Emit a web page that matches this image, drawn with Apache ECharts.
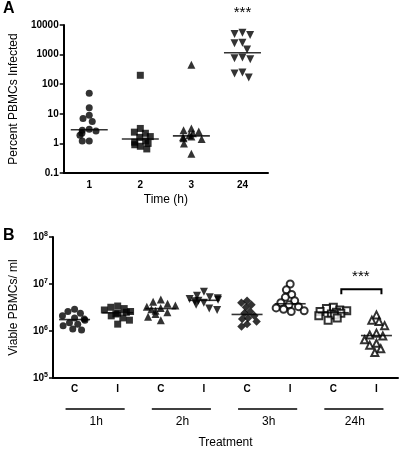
<!DOCTYPE html>
<html><head><meta charset="utf-8">
<script src="https://cdn.jsdelivr.net/npm/echarts@6/dist/echarts.min.js"></script>
<style>html,body{margin:0;padding:0;background:#fff}#c{width:400px;height:450px}</style>
</head><body><div id="c"></div>
<script>
// ---- Panel A data ----
const timeLabels = ['1', '2', '3', '24'];
const infected1h = [49, 16, 9, 7, 5.5, 3, 2.8, 2.6, 2.2, 1.9, 1.2, 1.2];
const infected2h = [200, 3.2, 2.4, 2.2, 1.7, 1.6, 1.2, 1.1, 1.0, 0.9, 0.8, 0.65];
const infected3h = [450, 3.2, 2.8, 2.5, 2.2, 1.9, 1.7, 1.6, 1.5, 1.4, 1.0, 0.45];
const infected24h = [5500, 5000, 4600, 2500, 2400, 1500, 800, 750, 700, 250, 230, 170];

// ---- Panel B data ----
const treatLabels = ['C', 'I', 'C', 'I', 'C', 'I', 'C', 'I'];
const timeGroups = ['1h', '2h', '3h', '24h'];
const viable1hC = [2.9e6, 2.6e6, 2.4e6, 2.1e6, 1.9e6, 1.8e6, 1.7e6, 1.5e6, 1.4e6, 1.3e6, 1.1e6, 1.05e6];
const viable1hI = [3.4e6, 3.2e6, 3.0e6, 2.8e6, 2.6e6, 2.5e6, 2.4e6, 2.3e6, 2.1e6, 1.9e6, 1.7e6, 1.4e6];
const viable2hC = [4.7e6, 4.2e6, 3.8e6, 3.5e6, 3.3e6, 3.1e6, 2.9e6, 2.7e6, 2.5e6, 2.3e6, 2.0e6, 1.7e6];
const viable2hI = [6.8e6, 5.6e6, 5.2e6, 5.0e6, 4.8e6, 4.6e6, 4.4e6, 4.3e6, 4.0e6, 3.6e6, 3.0e6, 2.8e6];
const viable3hC = [4.4e6, 4.0e6, 3.6e6, 3.2e6, 2.6e6, 2.4e6, 2.1e6, 1.9e6, 1.8e6, 1.6e6, 1.4e6, 1.25e6];
const viable3hI = [10.0e6, 7.5e6, 6.0e6, 5.2e6, 4.4e6, 4.0e6, 3.6e6, 3.3e6, 3.1e6, 2.9e6, 2.7e6, 2.6e6];
const viable24hC = [3.2e6, 3.0e6, 2.8e6, 2.7e6, 2.6e6, 2.5e6, 2.4e6, 2.3e6, 2.2e6, 2.1e6, 1.9e6, 1.7e6];
const viable24hI = [2.2e6, 1.7e6, 1.6e6, 1.3e6, 0.9e6, 0.82e6, 0.78e6, 0.65e6, 0.55e6, 0.5e6, 0.42e6, 0.35e6];
const bracketLevel = 7.7e6;

const FONT = 'Liberation Sans';
function median(a) {
  const s = a.slice().sort((x, y) => x - y);
  const n = s.length;
  return n % 2 ? s[(n - 1) / 2] : (s[n / 2 - 1] + s[n / 2]) / 2;
}

const groupsA = [
  { data: infected1h, symbol: 'circle', size: 7 },
  { data: infected2h, symbol: 'rect', size: 7 },
  { data: infected3h, symbol: 'triangle', size: 8 },
  { data: infected24h, symbol: 'triangle', size: 8, rotate: 180 }
];
const groupsB = [
  { data: viable1hC, symbol: 'circle', size: 7 },
  { data: viable1hI, symbol: 'rect', size: 7 },
  { data: viable2hC, symbol: 'triangle', size: 8 },
  { data: viable2hI, symbol: 'triangle', size: 8, rotate: 180 },
  { data: viable3hC, symbol: 'rect', size: 6, rotate: 45 },
  { data: viable3hI, symbol: 'emptyCircle', size: 7 },
  { data: viable24hC, symbol: 'emptyRect', size: 7 },
  { data: viable24hI, symbol: 'emptyTriangle', size: 7 }
];

function mkSeries(groups, xi, yi) {
  return groups.map((g, i) => ({
    type: 'scatter', xAxisIndex: xi, yAxisIndex: yi,
    symbol: g.symbol, symbolSize: g.size, symbolRotate: g.rotate || 0,
    itemStyle: { color: '#000', borderColor: '#000', borderWidth: g.symbol.startsWith('empty') ? 1.5 : 0 },
    data: g.data.map(v => [i, v]), z: 2, silent: true
  }));
}
function mkMedian(groups, xi, yi, w) {
  return {
    type: 'scatter', xAxisIndex: xi, yAxisIndex: yi, symbol: 'rect', symbolSize: [w, 1.6],
    itemStyle: { color: '#000' }, z: 3, silent: true,
    data: groups.map((g, i) => [i, median(g.data)])
  };
}

const axisLineStyle = { show: true, lineStyle: { color: '#000', width: 2 } };
const tickLbl = { color: '#000', fontFamily: FONT, fontWeight: 'bold', fontSize: 10 };
const nameStyle = { color: '#000', fontFamily: FONT, fontSize: 12 };

const option = {
  animation: false,
  backgroundColor: '#fff',
  grid: [
    { left: 48, right: 132, top: 25, height: 148 },
    { left: 48, right: 2, top: 237, height: 145 }
  ],
  xAxis: [
    { gridIndex: 0, type: 'category', data: timeLabels, jitter: 22, jitterOverlap: false, jitterMargin: 0,
      axisLine: axisLineStyle, axisTick: { show: false },
      axisLabel: Object.assign({ margin: 7 }, tickLbl),
      name: 'Time (h)', nameLocation: 'middle', nameGap: 21, nameTextStyle: nameStyle },
    { gridIndex: 0, type: 'category', data: timeLabels, show: false },
    { gridIndex: 1, type: 'category', data: treatLabels, jitter: 30, jitterOverlap: false, jitterMargin: 0,
      axisLine: axisLineStyle, axisTick: { show: false },
      axisLabel: Object.assign({ margin: 6 }, tickLbl),
      name: 'Treatment', nameLocation: 'middle', nameGap: 59, nameTextStyle: nameStyle },
    { gridIndex: 1, type: 'category', data: treatLabels, show: false },
    { gridIndex: 1, type: 'category', data: timeGroups, position: 'bottom', offset: 32,
      axisLine: { show: false }, axisTick: { show: false },
      axisLabel: { margin: 6, color: '#000', fontFamily: FONT, fontSize: 12 } }
  ],
  yAxis: [
    { gridIndex: 0, type: 'log', logBase: 10, min: 0.1, max: 10000, interval: 1,
      axisLine: axisLineStyle, axisTick: { show: true, length: 4, lineStyle: { color: '#000', width: 1.5 } },
      minorTick: { show: false }, splitLine: { show: false },
      axisLabel: Object.assign({ margin: 5, formatter: v => String(v) }, tickLbl),
      name: 'Percent PBMCs Infected', nameLocation: 'middle', nameRotate: 90, nameGap: 33, nameTextStyle: nameStyle },
    { gridIndex: 1, type: 'log', logBase: 10, min: 1e5, max: 1e8, interval: 1,
      axisLine: axisLineStyle, axisTick: { show: true, length: 4, lineStyle: { color: '#000', width: 1.5 } },
      minorTick: { show: false }, splitLine: { show: false },
      axisLabel: { margin: 5, formatter: v => '{b|10}{s|' + Math.round(Math.log10(v)) + '}',
        rich: { b: { color: '#000', fontFamily: FONT, fontWeight: 'bold', fontSize: 10 },
                s: { color: '#000', fontFamily: FONT, fontWeight: 'bold', fontSize: 7, padding: [0, 0, 6, 0] } } },
      name: 'Viable PBMCs/ ml', nameLocation: 'middle', nameRotate: 90, nameGap: 33, nameTextStyle: nameStyle }
  ],
  series: [].concat(
    mkSeries(groupsA, 0, 0), [mkMedian(groupsA, 1, 0, 37)],
    mkSeries(groupsB, 2, 1), [mkMedian(groupsB, 3, 1, 31)]
  )
};

const chart = echarts.init(document.getElementById('c'), null, { renderer: 'canvas' });
chart.setOption(option);

// annotations positioned through the axes
const pA = (pt) => chart.convertToPixel({ xAxisIndex: 0, yAxisIndex: 0 }, pt);
const pB = (pt) => chart.convertToPixel({ xAxisIndex: 2, yAxisIndex: 1 }, pt);
const els = [
  { type: 'text', left: 3, top: 1, style: { text: 'A', font: 'bold 16px ' + FONT, fill: '#000' } },
  { type: 'text', left: 3, top: 228, style: { text: 'B', font: 'bold 16px ' + FONT, fill: '#000' } }
];
const starA = pA([3, 10000]);
els.push({ type: 'text', x: starA[0], y: starA[1] - 12, style: { text: '***', font: '15px ' + FONT, fill: '#000', align: 'center', verticalAlign: 'middle' } });
const b0 = pB([6, bracketLevel]), b1 = pB([7, bracketLevel]);
els.push({ type: 'polyline', shape: { points: [[b0[0] + 8, b0[1] + 5], [b0[0] + 8, b0[1]], [b1[0] + 5, b1[1]], [b1[0] + 5, b1[1] + 5]] },
  style: { stroke: '#000', lineWidth: 2, fill: null } });
els.push({ type: 'text', x: (b0[0] + b1[0]) / 2 + 6, y: b0[1] - 12, style: { text: '***', font: '15px ' + FONT, fill: '#000', align: 'center', verticalAlign: 'middle' } });
for (let g = 0; g < timeGroups.length; g++) {
  const c0 = pB([2 * g, 1e5]), c1 = pB([2 * g + 1, 1e5]);
  els.push({ type: 'line', shape: { x1: c0[0] - 9, y1: c0[1] + 31, x2: c1[0] + 7, y2: c1[1] + 31 },
    style: { stroke: '#000', lineWidth: 1.5 } });
}
chart.setOption({ graphic: { elements: els } });
</script>
</body></html>
